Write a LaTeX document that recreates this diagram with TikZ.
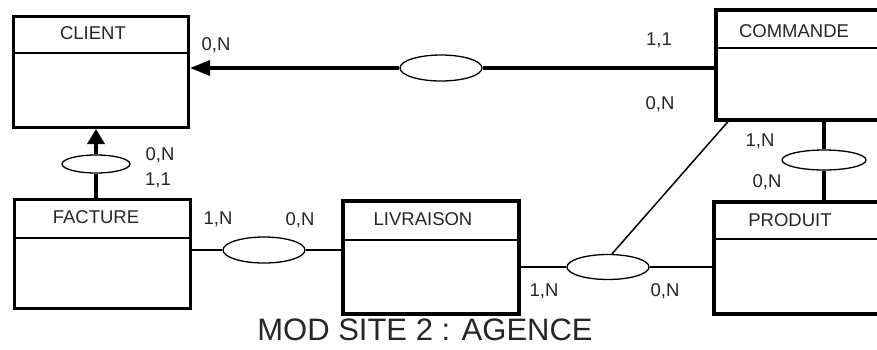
\documentclass[tikz,border=0pt]{standalone}
\usepackage{fontspec}
\setmainfont{Liberation Sans}
\usetikzlibrary{shapes.geometric,arrows.meta,calc}
\begin{document}
\begin{tikzpicture}[x=1pt,y=-1pt,
  ent/.style={draw, rectangle, inner sep=0pt, anchor=north west},
  rel/.style={draw, ellipse, inner sep=0pt, line width=1.3pt, fill=white},
  lab/.style={font=\fontsize{18.5}{20}\selectfont, inner sep=0pt, text=black!85},
  card/.style={font=\fontsize{18.5}{20}\selectfont, inner sep=0pt, text=black!85},
  hdr/.style={line width=2.2pt},
  thicklink/.style={line width=3.6pt},
  thinlink/.style={line width=2pt},
]
\path[use as bounding box, clip] (0,0) rectangle (877,349);
\fill[white] (0,0) rectangle (877,349);

% entities
\node[ent, line width=3pt, minimum width=175pt, minimum height=111pt] (client) at (12,15) {};
\node[ent, line width=2.6pt, minimum width=176pt, minimum height=109pt] (facture) at (13,198) {};
\node[ent, line width=4pt, minimum width=176pt, minimum height=113pt] (livraison) at (341,199) {};
\node[ent, line width=4pt, minimum width=190pt, minimum height=112pt] (produit) at (712,200) {};
\node[ent, line width=3.6pt, minimum width=190pt, minimum height=110pt] (commande) at (714,8) {};

\draw[hdr] (client.west |- 0,53) -- (client.east |- 0,53);
\draw[hdr] (facture.west |- 0,238) -- (facture.east |- 0,238);
\draw[hdr] (livraison.west |- 0,240) -- (livraison.east |- 0,240);
\draw[hdr] (produit.west |- 0,239) -- (produit.east |- 0,239);
\draw[hdr] (commande.west |- 0,48) -- (commande.east |- 0,48);

\node[lab] (clientT) at (93,33) {CLIENT};
\node[lab] (factureT) at (96,217) {FACTURE};
\node[lab] (livraisonT) at (423,219) {LIVRAISON};
\node[lab] (produitT) at (790,220) {PRODUIT};
\node[lab] (commandeT) at (794,31) {COMMANDE};

% relations
\node[rel, minimum width=82pt, minimum height=26pt] (r1) at (441,68) {};
\node[rel, minimum width=68pt, minimum height=18pt] (r2) at (96,164) {};
\node[rel, minimum width=82pt, minimum height=26pt] (r3) at (264,250) {};
\node[rel, minimum width=82pt, minimum height=25pt] (r4) at (608,267) {};
\node[rel, minimum width=84pt, minimum height=20pt] (r5) at (824,160) {};

% connectors
\draw[thicklink] (commande.west |- r1.east) -- (r1.east);
\draw[thicklink, -{Triangle[length=20pt,width=15pt]}] (r1.west) -- (client.east |- r1.west);
\draw[thicklink] (facture.north -| r2.south) -- (r2.south);
\draw[thicklink, -{Triangle[length=15pt,width=17pt]}] (r2.north) -- (client.south -| r2.north);
\draw[thinlink] (facture.east |- r3.west) -- (r3.west);
\draw[thinlink] (r3.east) -- (livraison.west |- r3.east);
\draw[thinlink] (livraison.east |- r4.west) -- (r4.west);
\draw[thinlink] (r4.east) -- (produit.west |- r4.east);
\coordinate (cmdfoot) at ($(commande.south west)+(14,0)$);
\draw[line width=1.5pt] (cmdfoot) -- ($(r4.north)+(4,0)$);
\draw[thicklink] (commande.south -| r5.north) -- (r5.north);
\draw[thicklink] (r5.south) -- (produit.north -| r5.south);

% cardinalities
\node[card] (c1) at (216,45) {0,N};
\node[card] (c2) at (659,40) {1,1};
\node[card] (c3) at (660,104) {0,N};
\node[card] (c4) at (160,155) {0,N};
\node[card] (c5) at (158,180) {1,1};
\node[card] (c6) at (218,219) {1,N};
\node[card] (c7) at (300,220) {0,N};
\node[card] (c8) at (544,291) {1,N};
\node[card] (c9) at (665,291) {0,N};
\node[card] (c10) at (760,141) {1,N};
\node[card] (c11) at (767,182) {0,N};

\node[font=\fontsize{31}{34}\selectfont, inner sep=0pt, text=black!85] (title) at (425,330) {MOD SITE 2 : AGENCE};
\end{tikzpicture}
\end{document}
